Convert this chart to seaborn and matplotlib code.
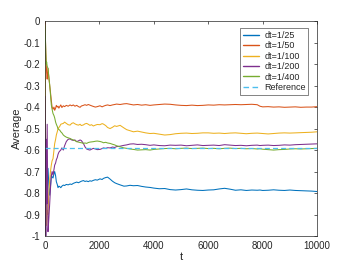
import numpy as np
import pandas as pd
import matplotlib
matplotlib.use('Agg')
import matplotlib.pyplot as plt
import seaborn as sns

# time grid shared by all the runs
t = [0, 15, 30, 45, 60, 80, 110, 140, 172, 200,
     232, 260, 294, 330, 355, 390, 416, 450, 478, 510,
     540, 580, 620, 673, 720, 784, 850, 920, 980, 1040,
     1100, 1165, 1230, 1290, 1336, 1410, 1470, 1530, 1590, 1650,
     1710, 1776, 1850, 1920, 2020, 2100, 2145, 2230, 2300, 2390,
     2480, 2560, 2630, 2760, 2900, 3000, 3125, 3250, 3400, 3550,
     3700, 3860, 4000, 4200, 4400, 4600, 4800, 5000, 5200, 5400,
     5600, 5800, 6000, 6200, 6400, 6600, 6800, 7000, 7200, 7400,
     7600, 7800, 7900, 8000, 8200, 8400, 8600, 8800, 9000, 9200,
     9400, 9600, 9800, 10000]

avg_25 = [-0.62, -0.70, -0.66, -0.72, -0.69, -0.74, -0.685, -0.76, -0.81, -0.77,
          -0.716, -0.725, -0.73, -0.71, -0.70, -0.72, -0.747, -0.76, -0.775, -0.768,
          -0.77, -0.775, -0.768, -0.763, -0.765, -0.76, -0.762, -0.758, -0.76, -0.755,
          -0.752, -0.749, -0.752, -0.748, -0.745, -0.742, -0.746, -0.744, -0.747, -0.743,
          -0.745, -0.741, -0.738, -0.74, -0.734, -0.737, -0.732, -0.728, -0.726, -0.735,
          -0.745, -0.752, -0.756, -0.762, -0.768, -0.767, -0.764, -0.766, -0.765, -0.769,
          -0.772, -0.774, -0.777, -0.78, -0.779, -0.784, -0.786, -0.784, -0.781, -0.785,
          -0.787, -0.788, -0.786, -0.785, -0.781, -0.778, -0.782, -0.787, -0.785, -0.788,
          -0.786, -0.787, -0.786, -0.788, -0.787, -0.785, -0.787, -0.788, -0.786, -0.788,
          -0.789, -0.79, -0.791, -0.793]

avg_50 = [0.0, -0.08, -0.15, -0.2, -0.24, -0.27, -0.22, -0.26, -0.30, -0.33,
          -0.37, -0.40, -0.41, -0.40, -0.415, -0.405, -0.392, -0.40, -0.396, -0.405,
          -0.398, -0.39, -0.402, -0.394, -0.398, -0.392, -0.396, -0.39, -0.394, -0.39,
          -0.396, -0.392, -0.398, -0.401, -0.395, -0.392, -0.389, -0.392, -0.388, -0.391,
          -0.394, -0.397, -0.40, -0.398, -0.394, -0.399, -0.396, -0.392, -0.39, -0.393,
          -0.39, -0.388, -0.386, -0.388, -0.385, -0.384, -0.387, -0.39, -0.388, -0.391,
          -0.389, -0.392, -0.39, -0.388, -0.386, -0.387, -0.39, -0.392, -0.393, -0.391,
          -0.393, -0.392, -0.39, -0.391, -0.389, -0.39, -0.389, -0.388, -0.389, -0.388,
          -0.387, -0.389, -0.396, -0.399, -0.398, -0.40, -0.399, -0.401, -0.40, -0.399,
          -0.401, -0.40, -0.40, -0.398]

avg_100 = [-0.02, -0.45, -0.62, -0.80, -0.95, -0.88, -0.90, -0.80, -0.74, -0.70,
           -0.67, -0.65, -0.64, -0.60, -0.57, -0.55, -0.53, -0.515, -0.50, -0.495,
           -0.49, -0.48, -0.478, -0.476, -0.47, -0.476, -0.482, -0.484, -0.476, -0.473,
           -0.478, -0.482, -0.484, -0.48, -0.486, -0.483, -0.478, -0.476, -0.48, -0.485,
           -0.482, -0.488, -0.484, -0.481, -0.482, -0.477, -0.479, -0.486, -0.495, -0.50,
           -0.494, -0.487, -0.49, -0.485, -0.497, -0.505, -0.51, -0.515, -0.512, -0.516,
           -0.52, -0.523, -0.522, -0.526, -0.53, -0.528, -0.524, -0.522, -0.521, -0.523,
           -0.522, -0.52, -0.52, -0.522, -0.521, -0.523, -0.521, -0.52, -0.522, -0.524,
           -0.522, -0.521, -0.522, -0.523, -0.525, -0.523, -0.521, -0.52, -0.521, -0.52,
           -0.519, -0.518, -0.517, -0.515]

avg_200 = [-0.35, -0.62, -1.0, -0.55, -0.85, -0.48, -0.98, -0.92, -0.85, -0.78,
           -0.72, -0.70, -0.716, -0.69, -0.67, -0.66, -0.645, -0.635, -0.62, -0.61,
           -0.605, -0.60, -0.59, -0.60, -0.58, -0.56, -0.55, -0.548, -0.553, -0.555,
           -0.553, -0.561, -0.557, -0.553, -0.556, -0.569, -0.585, -0.595, -0.598, -0.60,
           -0.596, -0.592, -0.595, -0.598, -0.597, -0.593, -0.59, -0.592, -0.589, -0.59,
           -0.586, -0.588, -0.584, -0.582, -0.578, -0.576, -0.572, -0.571, -0.574, -0.573,
           -0.575, -0.578, -0.576, -0.579, -0.58, -0.577, -0.578, -0.577, -0.58, -0.578,
           -0.576, -0.579, -0.578, -0.577, -0.579, -0.575, -0.577, -0.579, -0.578, -0.58,
           -0.578, -0.577, -0.579, -0.578, -0.577, -0.579, -0.578, -0.576, -0.577, -0.575,
           -0.574, -0.573, -0.572, -0.571]

avg_400 = [-0.02, -0.08, -0.15, -0.2, -0.19, -0.21, -0.22, -0.26, -0.296, -0.34,
           -0.39, -0.41, -0.43, -0.44, -0.45, -0.47, -0.48, -0.49, -0.50, -0.505,
           -0.507, -0.515, -0.52, -0.53, -0.535, -0.54, -0.543, -0.546, -0.55, -0.553,
           -0.556, -0.561, -0.563, -0.565, -0.566, -0.569, -0.567, -0.569, -0.565, -0.563,
           -0.562, -0.561, -0.559, -0.558, -0.56, -0.563, -0.566, -0.564, -0.567, -0.569,
           -0.573, -0.576, -0.58, -0.585, -0.59, -0.592, -0.595, -0.597, -0.60, -0.599,
           -0.598, -0.60, -0.597, -0.595, -0.593, -0.592, -0.594, -0.592, -0.591, -0.593,
           -0.592, -0.591, -0.593, -0.592, -0.594, -0.592, -0.591, -0.593, -0.592, -0.594,
           -0.593, -0.595, -0.594, -0.596, -0.598, -0.60, -0.598, -0.597, -0.595, -0.594,
           -0.595, -0.594, -0.593, -0.592]

ref_t = [0, 10000]
ref_val = [-0.59, -0.59]

labels = ['dt=1/25', 'dt=1/50', 'dt=1/100', 'dt=1/200', 'dt=1/400']
colors = ['#0072BD', '#D95319', '#EDB120', '#7E2F8E', '#77AC30']
ref_color = '#4DBEEE'

y_ticks = [-1, -0.9, -0.8, -0.7, -0.6, -0.5, -0.4, -0.3, -0.2, -0.1, 0]
y_ticklabels = ['-1', '-0.9', '-0.8', '-0.7', '-0.6', '-0.5', '-0.4', '-0.3', '-0.2', '-0.1', '0']
x_ticks = [0, 2000, 4000, 6000, 8000, 10000]

sns.set_style('white')
plt.rcParams['font.family'] = ['Liberation Sans', 'DejaVu Sans']
plt.rcParams['axes.unicode_minus'] = False

fig = plt.figure(figsize=(3.5, 2.64), dpi=100)
ax = fig.add_axes([0.1286, 0.106, 0.7774, 0.814])

series = [avg_25, avg_50, avg_100, avg_200, avg_400]
for vals, lab, col in zip(series, labels, colors):
    df = pd.DataFrame({'t': t, 'Average': vals})
    sns.lineplot(data=df, x='t', y='Average', color=col, lw=0.75, label=lab, ax=ax)

df_ref = pd.DataFrame({'t': ref_t, 'Average': ref_val})
sns.lineplot(data=df_ref, x='t', y='Average', color=ref_color, lw=0.9,
             linestyle=(0, (4, 2.5)), label='Reference', ax=ax)

ax.set_xlim(0, 10000)
ax.set_ylim(-1, 0)
ax.set_xticks(x_ticks)
ax.set_xticklabels([str(v) for v in x_ticks])
ax.set_yticks(y_ticks)
ax.set_yticklabels(y_ticklabels)
ax.tick_params(direction='in', length=2.5, width=0.5, labelsize=7,
               colors='#262626', top=True, right=True, pad=3.5)
for sp in ax.spines.values():
    sp.set_color('#262626')
    sp.set_linewidth(0.5)
ax.set_xlabel('t', fontsize=8, color='#262626', labelpad=1)
ax.set_ylabel('Average', fontsize=8, color='#262626', labelpad=1)

leg = ax.legend(loc='upper right', bbox_to_anchor=(0.968, 0.966), fontsize=6.5,
                frameon=True, fancybox=False, edgecolor='#262626',
                handlelength=1.8, handletextpad=0.6, labelspacing=0.15,
                borderpad=0.3, borderaxespad=0)
leg.get_frame().set_linewidth(0.5)
for h in leg.get_lines():
    h.set_linewidth(1.0)

fig.savefig('out.png', dpi=100)
